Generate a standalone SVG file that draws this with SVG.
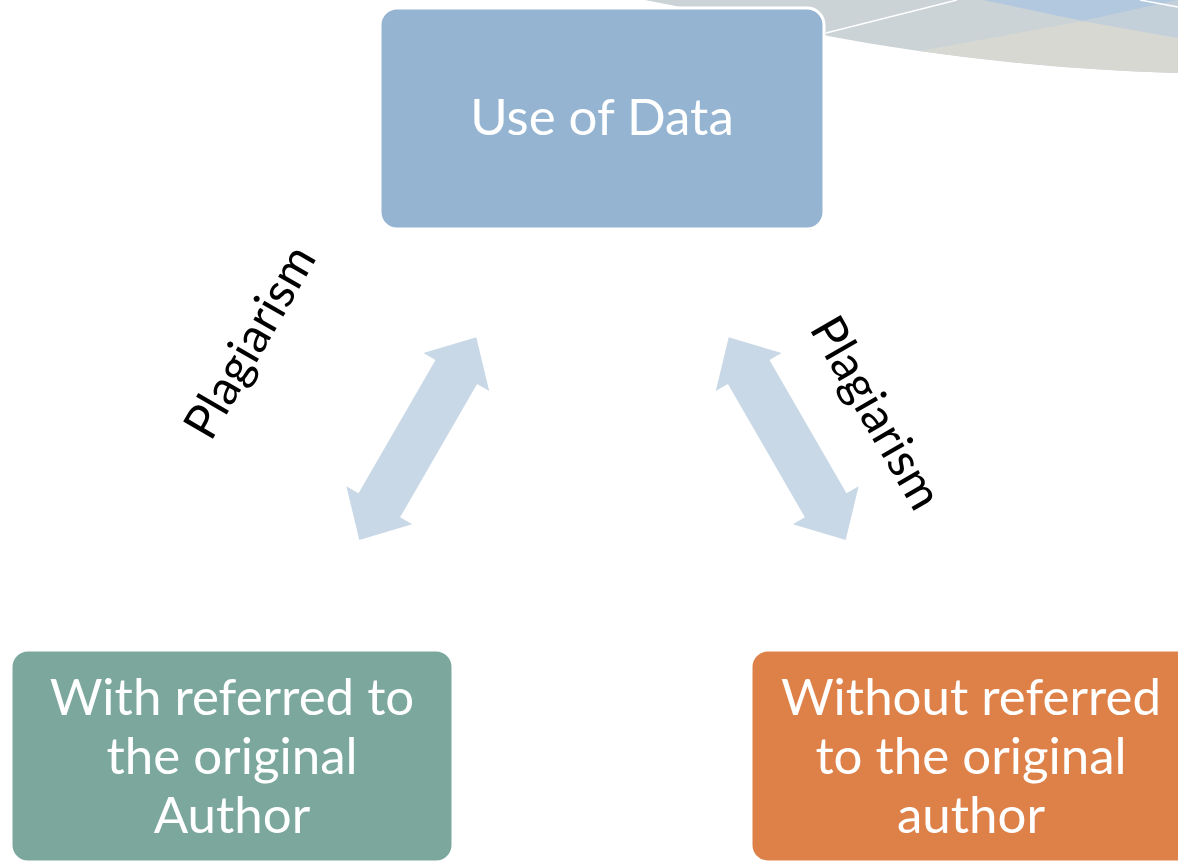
<svg xmlns="http://www.w3.org/2000/svg" width="1178" height="863" viewBox="0 0 1178 863">
  <defs>
    <style>
      .box-text { font-family: Lato, "Liberation Sans", sans-serif; font-size: 51px; fill: #ffffff; text-anchor: middle; }
      .label { font-family: Lato, "Liberation Sans", sans-serif; font-size: 48px; fill: #000000; text-anchor: middle; }
      .box { stroke: #ffffff; stroke-width: 3; }
      .arrow { fill: #c8d8e6; }
    </style>
    <!-- double-headed block arrow, drawn along +x from its lower tip -->
    <polygon id="dbl-arrow" points="0,0 40,-38 40,-24 194,-24 194,-38 234,0 194,38 194,24 40,24 40,38"/>
  </defs>

  <rect width="1178" height="863" fill="#ffffff"/>

  <!-- decorative swoosh, top right -->
  <g id="swoosh">
    <path d="M 645 0 C 790 28, 940 66, 1178 73 L 1178 0 Z" fill="#cbd3d7"/>
    <path d="M 920 51 L 1083 21 L 1178 38 L 1178 73 C 1080 70, 1000 62, 920 51 Z" fill="#d6d8d1"/>
    <path d="M 983 0 L 1083 21 L 1178 0 Z" fill="#b2c8de"/>
    <path d="M 1083 21 L 1178 0 L 1178 38 Z" fill="#c3d0da"/>
    <path d="M 826 33 L 957 0" stroke="#ffffff" stroke-width="1.5" fill="none"/>
    <path d="M 1140 0 L 1178 7" stroke="#ffffff" stroke-width="1.5" fill="none"/>
  </g>

  <!-- connectors -->
  <g id="connectors">
    <use href="#dbl-arrow" class="arrow" transform="translate(359.3,540) rotate(-60)"/>
    <use href="#dbl-arrow" class="arrow" transform="translate(845.7,540) rotate(-120)"/>
    <text class="label" transform="translate(264,350) rotate(-60)">Plagiarism</text>
    <text class="label" transform="translate(862,421) rotate(60)">Plagiarism</text>
  </g>

  <g id="node-use-of-data">
    <rect class="box" x="380" y="8" width="444" height="221" rx="17" fill="#95b4d2"/>
    <text class="box-text" x="602" y="135">Use of Data</text>
  </g>

  <g id="node-with-reference">
    <rect class="box" x="11" y="650" width="442" height="212" rx="17" fill="#7ba79c"/>
    <text class="box-text" x="232" y="715">With referred to</text>
    <text class="box-text" x="232" y="774">the original</text>
    <text class="box-text" x="232" y="833">Author</text>
  </g>

  <g id="node-without-reference">
    <rect class="box" x="751" y="650" width="442" height="212" rx="17" fill="#de8149"/>
    <text class="box-text" x="971" y="715">Without referred</text>
    <text class="box-text" x="971" y="774">to the original</text>
    <text class="box-text" x="971" y="833">author</text>
  </g>
</svg>
